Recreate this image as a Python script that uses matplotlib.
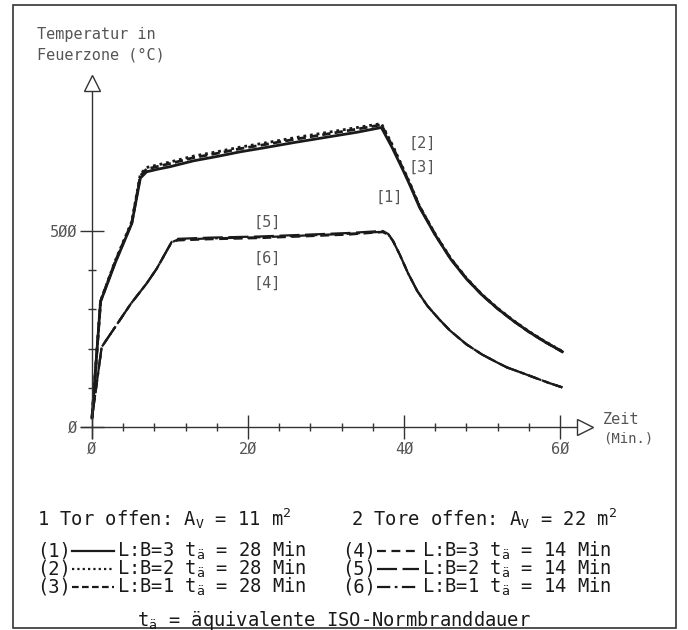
import matplotlib
matplotlib.use("Agg")
import matplotlib.pyplot as plt
from matplotlib.lines import Line2D
from matplotlib.patches import Rectangle

# ---------------------------------------------------------------
# Daten
# ---------------------------------------------------------------
# 1 Tor offen (Kurven 1-3)
t_1tor = [0, 1.1, 3, 5.1, 6.2, 7.0, 8.5, 10, 13, 16, 19, 22, 26, 30, 34, 37.1,
          38.5, 40, 40.8, 42, 44, 46, 48, 50, 52, 54, 56, 58, 60.3]
temp_1 = [23, 320, 420, 519, 635, 651, 658, 664, 679, 690, 702, 712, 726, 739, 752, 764,
          712, 650, 615, 560, 490, 428, 378, 337, 302, 271, 243, 218, 192]
temp_2 = [23, 322, 425, 524, 645, 662, 669, 676, 691, 702, 714, 724, 738, 751, 764, 774,
          720, 655, 620, 563, 492, 430, 380, 338, 303, 272, 244, 219, 193]
temp_3 = [23, 321, 423, 521, 641, 658, 665, 672, 687, 698, 710, 720, 734, 747, 760, 771,
          717, 653, 618, 562, 491, 429, 379, 337, 302, 271, 243, 218, 192]

# 2 Tore offen (Kurven 4-6)
t_2tore = [0, 1.24, 3, 5, 7, 8.3, 10.2, 11, 15, 21.5, 28, 33, 36.3, 37.3, 38.0, 38.6,
           39.5, 40.5, 41.7, 43, 44.5, 45.9, 48, 50, 52, 53.2, 55, 57, 58.5, 60.3]
temp_4 = [23, 204, 256, 315, 366, 404, 471, 476, 479, 482, 487, 491, 496, 497, 490, 474,
          438, 393, 347, 309, 275, 246, 211, 185, 164, 152, 139, 124, 113, 101]
temp_5 = [23, 204, 256, 315, 366, 404, 472, 480, 483, 486, 491, 495, 499, 500, 492, 475,
          438, 393, 347, 309, 275, 246, 211, 185, 164, 152, 139, 124, 113, 101]
temp_6 = [23, 204, 256, 315, 366, 404, 471, 478, 481, 484, 489, 493, 497, 498, 491, 474,
          438, 393, 347, 309, 275, 246, 211, 185, 164, 152, 139, 124, 113, 101]

x_ticks_major = [0, 20, 40, 60]
x_labels = ["Ø", "2Ø", "4Ø", "6Ø"]
y_ticks_major = [0, 500]
y_labels = ["Ø", "5ØØ"]

curve_labels = ["[1]", "[2]", "[3]", "[4]", "[5]", "[6]"]
curve_label_pos = [(38.1, 585), (42.3, 723), (42.3, 662), (22.4, 366), (22.4, 522), (22.4, 430)]

legend_left = ["L:B=3 t$_{ä}$ = 28 Min", "L:B=2 t$_{ä}$ = 28 Min", "L:B=1 t$_{ä}$ = 28 Min"]
legend_right = ["L:B=3 t$_{ä}$ = 14 Min", "L:B=2 t$_{ä}$ = 14 Min", "L:B=1 t$_{ä}$ = 14 Min"]

# ---------------------------------------------------------------
# Stil
# ---------------------------------------------------------------
plt.rcParams['font.family'] = ['DejaVu Sans Mono']
plt.rcParams['mathtext.fontset'] = 'custom'
plt.rcParams['mathtext.rm'] = 'DejaVu Sans Mono'
plt.rcParams['mathtext.it'] = 'DejaVu Sans Mono'
plt.rcParams['mathtext.bf'] = 'DejaVu Sans Mono:bold'

W, H = 688, 630
INK = '#1a1a1a'
GREY = '#555555'

ST_SOLID = '-'
ST_DOT = (0, (1, 1.4))
ST_DASH_SHORT = (0, (3, 1.5))
ST_DASH = (0, (4, 2.5))
ST_DASH_LONG = (0, (9, 2.5))
ST_DASHDOT = (0, (6, 2, 1.2, 2))


def px(x, y):
    # Pixelposition -> Figurenkoordinaten
    return x / W, 1 - y / H


fig = plt.figure(figsize=(W / 100, H / 100), dpi=100, facecolor='white')

# Achse so legen, dass t=0 -> x=92 px, t=60 -> x=560 px, T=0 -> y=427 px, T=500 -> y=231 px
x0, x60 = 92, 560
y0, y500 = 427, 231
ax_left, ax_right = px(x0, 0)[0], px(x60, 0)[0]
ax_bot, ax_top = px(0, y0)[1], px(0, y500)[1]
ax = fig.add_axes([ax_left, ax_bot, ax_right - ax_left, ax_top - ax_bot])
ax.patch.set_visible(False)

for s in ['top', 'right']:
    ax.spines[s].set_visible(False)
ax.spines['bottom'].set_position(('data', 0))
ax.spines['left'].set_position(('data', 0))
ax.spines['bottom'].set_bounds(-1.4, 62.4)
ax.spines['left'].set_bounds(-28, 866)
for s in ['bottom', 'left']:
    ax.spines[s].set_color('#333333')
    ax.spines[s].set_linewidth(1.0)

ax.set_xticks(x_ticks_major)
ax.set_xticklabels(x_labels)
ax.set_xticks([t for t in range(4, 60, 4) if t % 20], minor=True)
ax.set_yticks(y_ticks_major)
ax.set_yticklabels(y_labels)
ax.set_yticks([v for v in range(100, 900, 100) if v != 500], minor=True)
# Grenzen erst nach den Ticks setzen (set_ticks erweitert sonst die Ansicht)
ax.set_xlim(0, 60)
ax.set_ylim(0, 500)

ax.tick_params(which='major', direction='inout', length=17, width=1.0, color='#333333',
               labelsize=11, labelcolor=GREY)
ax.tick_params(which='minor', direction='inout', length=6, width=1.0, color='#333333')
ax.tick_params(axis='x', which='major', pad=2)
ax.tick_params(axis='y', which='major', pad=2)

# Pfeilspitzen
ax.plot([63.2], [0], marker='>', ms=11, mfc='white', mec='#333333', mew=1.0,
        clip_on=False, zorder=5)
ax.plot([0], [878], marker='^', ms=11, mfc='white', mec='#333333', mew=1.0,
        clip_on=False, zorder=5)

# Kurven
ax.plot(t_1tor, temp_1, color=INK, lw=2.0, ls=ST_SOLID, clip_on=False)
ax.plot(t_1tor, temp_2, color=INK, lw=2.0, ls=ST_DOT, clip_on=False)
ax.plot(t_1tor, temp_3, color=INK, lw=2.0, ls=ST_DASH_SHORT, clip_on=False)
ax.plot(t_2tore, temp_4, color=INK, lw=1.6, ls=ST_DASH, clip_on=False)
ax.plot(t_2tore, temp_5, color=INK, lw=1.6, ls=ST_DASH_LONG, clip_on=False)
ax.plot(t_2tore, temp_6, color=INK, lw=1.6, ls=ST_DASHDOT, clip_on=False)

for lab, (tx, ty) in zip(curve_labels, curve_label_pos):
    ax.text(tx, ty, lab, color=GREY, fontsize=11, ha='center', va='center')

# Achsentitel
fig.text(*px(37, 35), "Temperatur in", color=GREY, fontsize=11, ha='left', va='center')
fig.text(*px(37, 55), "Feuerzone (°C)", color=GREY, fontsize=11, ha='left', va='center')
fig.text(*px(603, 419), "Zeit", color=GREY, fontsize=11, ha='left', va='center')
fig.text(*px(603, 438), "(Min.)", color=GREY, fontsize=10, ha='left', va='center')

# Legende
FS = 13.5
fig.text(*px(37, 519), "1 Tor offen: A$_\\mathrm{V}$ = 11 m$^2$", color=INK, fontsize=FS,
         ha='left', va='center')
fig.text(*px(351, 519), "2 Tore offen: A$_\\mathrm{V}$ = 22 m$^2$", color=INK, fontsize=FS,
         ha='left', va='center')

rows_y = [551, 569, 587]
left_styles = [ST_SOLID, ST_DOT, ST_DASH_SHORT]
right_styles = [ST_DASH, ST_DASH_LONG, ST_DASHDOT]
for i, y in enumerate(rows_y):
    fig.text(*px(37, y), f"({i + 1})", color=INK, fontsize=FS, ha='left', va='center')
    xa, ya = px(72, y)
    xb, _ = px(114, y)
    fig.add_artist(Line2D([xa, xb], [ya, ya], color=INK, lw=1.6, ls=left_styles[i]))
    fig.text(*px(117, y), legend_left[i], color=INK, fontsize=FS, ha='left', va='center')

    fig.text(*px(342, y), f"({i + 4})", color=INK, fontsize=FS, ha='left', va='center')
    xa, ya = px(377, y)
    xb, _ = px(419, y)
    fig.add_artist(Line2D([xa, xb], [ya, ya], color=INK, lw=1.6, ls=right_styles[i]))
    fig.text(*px(422, y), legend_right[i], color=INK, fontsize=FS, ha='left', va='center')

fig.text(*px(137, 620), "t$_{ä}$ = äquivalente ISO-Normbranddauer", color=INK, fontsize=FS,
         ha='left', va='center')

# Rahmen
fig.add_artist(Rectangle(px(13, 628), (676 - 13) / W, (628 - 5) / H, fill=False,
                         edgecolor='#333333', lw=1.2, transform=fig.transFigure))

fig.savefig('out.png', dpi=100, facecolor='white')
